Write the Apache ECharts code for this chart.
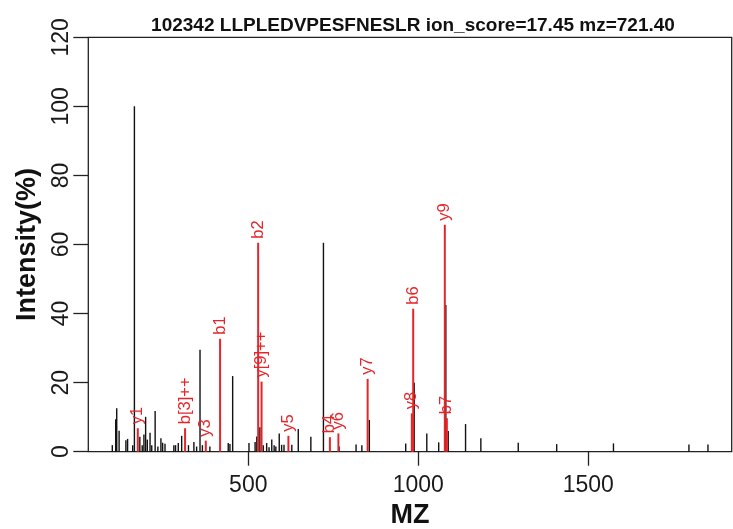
<!DOCTYPE html>
<html><head><meta charset="utf-8">
<script src="https://cdn.jsdelivr.net/npm/echarts@6/dist/echarts.min.js"></script>
<style>html,body{margin:0;padding:0;background:#fff}#c{width:733px;height:529px}</style>
</head><body><div id="c"></div>
<script>
const titleText = '102342 LLPLEDVPESFNESLR ion_score=17.45 mz=721.40';
const xTicks = [500, 1000, 1500];
const yTicks = [0, 20, 40, 60, 80, 100, 120];

// unannotated peaks (black)
const peakMz = [100,110,113,120,140,145,160,165,181,188,193,198,203,211,216,226,234,243,248,255,281,286,294,304,324,340,348,358,365,387,441,446,454,502,520,525,534,544,554,561,569,576,581,591,598,605,628,647,684,721,767,817,834,856,963,988,1025,1060,1081,1088,1139,1184,1294,1407,1574,1796,1852];
const peakIntensity = [1.9,9.4,12.6,6.1,3.3,3.7,1.9,100,4.3,1.9,5.0,10.1,3.5,5.5,1.9,11.8,1.5,3.9,2.6,2.3,1.9,1.9,2.5,4.6,1.9,2.8,1.5,29.5,1.9,1.5,2.5,2.2,21.9,2.5,2.8,4.4,7.1,1.9,2.5,1.3,3.5,1.9,1.5,5.3,2.0,2.0,2.0,6.6,4.3,60.5,1.5,2.1,1.9,9.2,2.4,20,5.3,2.7,42.5,6,8,3.9,2.6,2.2,2.4,2.1,2.1];

// annotated ions (red)
const ionMz = [175,314,375,417,529,539,618,740,765,851,981,985,1078,1084];
const ionIntensity = [6.8,6.8,3.2,32.7,60.5,20.3,4.6,4.2,5.3,21.1,11.1,41.4,65.7,9.7];
const ionLabels = ['y1','b[3]++','y3','b1','b2','y[9]++','y5','b4','y6','y7','y8','b6','y9','b7'];

const RED = '#e4262b';
const FONT = '"Liberation Sans", Arial, Helvetica, sans-serif';

const chart = echarts.init(document.getElementById('c'), null, {renderer: 'canvas'});

function renderPeak(params, api) {
  const x = api.value(0), y = api.value(1);
  const p0 = api.coord([x, 0]), p1 = api.coord([x, y]);
  return {type: 'line', shape: {x1: p0[0], y1: p0[1], x2: p1[0], y2: p1[1]},
          style: {stroke: '#111', lineWidth: 1.4}};
}
function renderIon(params, api) {
  const x = api.value(0), y = api.value(1);
  const p0 = api.coord([x, 0]), p1 = api.coord([x, y]);
  return {type: 'group', children: [
    {type: 'line', shape: {x1: p0[0], y1: p0[1], x2: p1[0], y2: p1[1]},
     style: {stroke: RED, lineWidth: 2}},
    {type: 'text', x: p1[0], y: p1[1] - 4, rotation: Math.PI / 2,
     style: {text: ionLabels[params.dataIndex], fill: RED, font: '16.5px ' + FONT,
             align: 'left', verticalAlign: 'middle'}}
  ]};
}

chart.setOption({
  animation: false,
  backgroundColor: '#fff',
  title: {
    text: titleText, left: 408, top: 11, textAlign: 'center',
    textStyle: {fontFamily: FONT, fontWeight: 'bold', fontSize: 19, color: '#111'}
  },
  grid: {left: 88.3, right: 1.3, top: 37.3, bottom: 77.3, show: true,
         outerBoundsMode: 'none', containLabel: false,
         borderColor: '#222', borderWidth: 1.3, backgroundColor: 'transparent'},
  xAxis: {
    type: 'value', min: 29.4, max: 1921.8,
    axisLine: {show: false},
    splitLine: {show: false},
    axisTick: {show: true, customValues: xTicks, length: 14, lineStyle: {color: '#222', width: 1.3}},
    axisLabel: {customValues: xTicks, formatter: v => String(v),
                fontFamily: FONT, fontSize: 23, color: '#1a1a1a', margin: 22},
    name: 'MZ', nameLocation: 'middle', nameGap: 49,
    nameTextStyle: {fontFamily: FONT, fontWeight: 'bold', fontSize: 27, color: '#111'}
  },
  yAxis: {
    type: 'value', min: 0, max: 120, interval: 20,
    axisLine: {show: false},
    splitLine: {show: false},
    axisTick: {show: true, length: 15, lineStyle: {color: '#222', width: 1.3}},
    axisLabel: {rotate: 90, fontFamily: FONT, fontSize: 23, color: '#1a1a1a', margin: 15,
                customValues: yTicks, formatter: v => String(v)},
    name: 'Intensity(%)', nameLocation: 'middle', nameGap: 47, nameRotate: 90,
    nameTextStyle: {fontFamily: FONT, fontWeight: 'bold', fontSize: 27, color: '#111'}
  },
  series: [
    {type: 'custom', renderItem: renderPeak, encode: {x: 0, y: 1}, clip: false,
     data: peakMz.map((m, i) => [m, peakIntensity[i]])},
    {type: 'custom', renderItem: renderIon, encode: {x: 0, y: 1}, clip: false,
     data: ionMz.map((m, i) => [m, ionIntensity[i]])}
  ]
});
</script>
</body></html>
